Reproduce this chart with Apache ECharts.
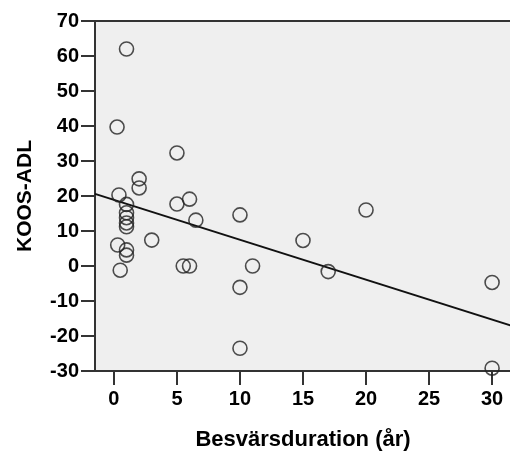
<!DOCTYPE html>
<html>
<head>
<meta charset="utf-8">
<script src="https://cdn.jsdelivr.net/npm/echarts@6/dist/echarts.min.js"></script>
<style>html,body{margin:0;padding:0;background:#fff;}#c{width:510px;height:452px;}</style>
</head>
<body>
<div id="c"></div>
<script>
// Besvärsduration (år)
var durationYears = [1, 0.25, 5, 2, 2, 0.4, 1, 1, 1, 1, 1, 0.3, 1, 1, 0.5, 3, 5, 6, 6.5, 10, 5.5, 6, 11, 15, 10, 17, 10, 20, 30, 30];
// KOOS-ADL
var koosAdl = [62, 39.7, 32.3, 24.9, 22.3, 20.3, 17.6, 15.2, 13.8, 12.3, 11.2, 6, 4.6, 3.1, -1.2, 7.4, 17.7, 19.1, 13.1, 14.6, 0, 0, 0, 7.3, -6.1, -1.6, -23.5, 16, -4.7, -29.2];
// fit line endpoints (x, y)
var fitX = [-1.5, 31.5];
var fitY = [20.6, -17.0];
var xTickValues = [0, 5, 10, 15, 20, 25, 30];
var xName = 'Besvärsduration (år)';
var yName = 'KOOS-ADL';

var points = durationYears.map(function (x, i) { return [x, koosAdl[i]]; });
var fitLine = fitX.map(function (x, i) { return [x, fitY[i]]; });

var chart = echarts.init(document.getElementById('c'));
var font = 'Liberation Sans, Arial, sans-serif';
chart.setOption({
  animation: false,
  backgroundColor: '#ffffff',
  grid: {
    left: 95, top: 21, width: 416, height: 350,
    outerBoundsMode: 'none', containLabel: false,
    show: true, backgroundColor: '#efefef', borderColor: '#333', borderWidth: 2
  },
  xAxis: {
    type: 'value', min: -1.5, max: 31.5,
    name: xName, nameLocation: 'middle', nameGap: 58,
    nameTextStyle: { fontFamily: font, fontWeight: 'bold', fontSize: 22, color: '#000' },
    axisLine: { show: true, onZero: false, lineStyle: { color: '#333', width: 2 } },
    axisTick: { show: true, customValues: xTickValues, length: 14, lineStyle: { color: '#333', width: 2 } },
    axisLabel: { customValues: xTickValues, margin: 18, fontFamily: font, fontWeight: 'bold', fontSize: 20, color: '#000' },
    splitLine: { show: false }
  },
  yAxis: {
    type: 'value', min: -30, max: 70, interval: 10,
    name: yName, nameLocation: 'middle', nameGap: 59, nameRotate: 90,
    nameTextStyle: { fontFamily: font, fontWeight: 'bold', fontSize: 21, color: '#000' },
    axisLine: { show: true, onZero: false, lineStyle: { color: '#333', width: 2 } },
    axisTick: { show: true, length: 14, lineStyle: { color: '#333', width: 2 } },
    axisLabel: { margin: 16, fontFamily: font, fontWeight: 'bold', fontSize: 20, color: '#000' },
    splitLine: { show: false }
  },
  series: [
    {
      type: 'line', data: fitLine, showSymbol: false, symbol: 'none',
      lineStyle: { color: '#111', width: 2 }, z: 3, silent: true
    },
    {
      type: 'scatter', data: points, symbol: 'circle', symbolSize: 14,
      itemStyle: { color: 'rgba(0,0,0,0)', borderColor: '#222', borderWidth: 1.6 },
      z: 4, clip: false
    }
  ]
});
</script>
</body>
</html>
